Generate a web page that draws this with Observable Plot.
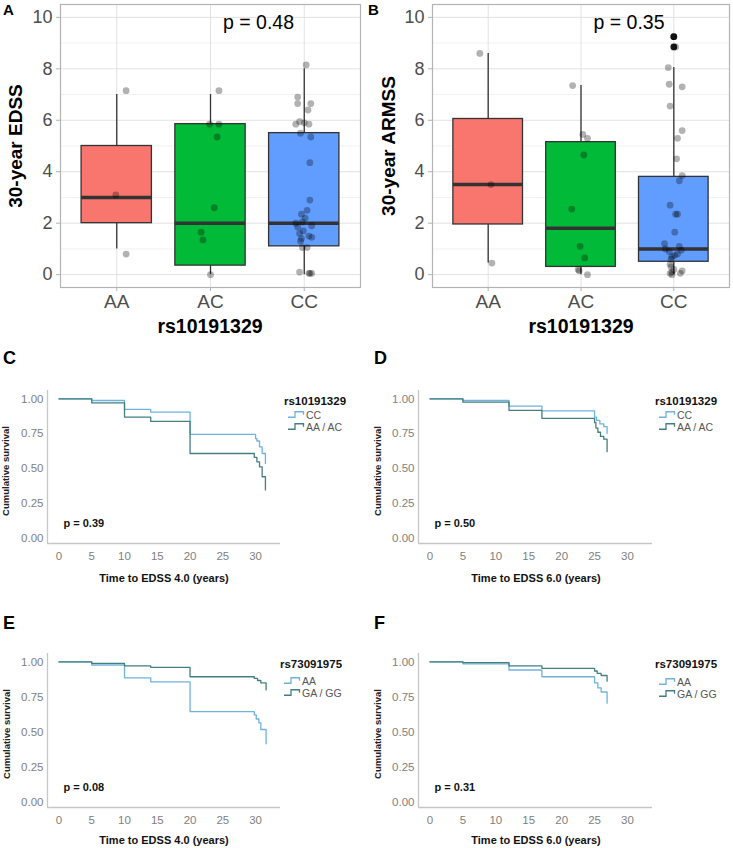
<!DOCTYPE html>
<html><head><meta charset="utf-8">
<script src="https://cdn.jsdelivr.net/npm/d3@7"></script>
<script src="https://cdn.jsdelivr.net/npm/@observablehq/plot@0.6"></script>
<style>
body{margin:0;background:#fff;}
#root{position:relative;width:733px;height:848px;font-family:"Liberation Sans",Arial,sans-serif;overflow:hidden;background:#fff}
.abs{position:absolute;white-space:nowrap;line-height:1}
.plot{position:absolute}
</style></head><body><div id="root"></div>
<script>
const FONT = '"Liberation Sans", Arial, sans-serif';
// ---------- Box plot data ----------
const genotypes = ["AA", "AC", "CC"];
const boxColors = ["#F8766D", "#00BA38", "#619CFF"];
const yTicksBox = [0, 2, 4, 6, 8, 10];
const yMinorBox = [1, 3, 5, 7, 9];

// Panel A: 30-year EDSS
const edssLower = [1, 0, 0];
const edssQ1 = [2, 0.35, 1.1];
const edssMedian = [3, 2, 2];
const edssQ3 = [5, 5.85, 5.5];
const edssUpper = [7, 7, 8];
const edssAA = [7.15, 3.1, 0.8];
const edssAAJitter = [0.1, -0.01, 0.1];
const edssAC = [7.15, 5.85, 5.85, 5.35, 2.6, 1.65, 1.35, 0.0];
const edssACJitter = [0.09, -0.01, 0.09, 0.07, 0.04, -0.1, -0.08, 0];
const edssCC = [8.15, 6.9, 6.65, 6.65, 6.4, 5.95, 5.9, 5.85, 5.85, 5.5, 5.35, 4.35, 2.9, 2.5, 2.35, 2.2, 2.05, 2.0, 1.9, 1.85, 1.7, 1.6, 1.5, 1.45, 1.4, 1.3, 1.05, 1.05, 0.1, 0.05, 0.05, 0.05];
const edssCCJitter = [0.02, -0.07, -0.07, 0.07, 0.04, -0.05, 0, -0.09, 0.05, -0.04, 0.07, 0.06, 0.06, 0.03, -0.03, 0.01, -0.02, -0.09, 0.08, -0.07, -0.01, -0.05, 0.05, 0.08, -0.03, -0.04, -0.02, 0.03, -0.05, 0.06, 0.08, 0.05];
const edssOutliers = [[], [], []];
const edssP = "p = 0.48";

// Panel B: 30-year ARMSS
const armssLower = [0.45, 0, 0];
const armssQ1 = [1.95, 0.3, 0.5];
const armssMedian = [3.5, 1.8, 1.0];
const armssQ3 = [6.05, 5.15, 3.8];
const armssUpper = [8.6, 7.35, 8.05];
const armssAA = [8.6, 3.5, 0.45];
const armssAAJitter = [-0.09, 0.03, 0.04];
const armssAC = [7.35, 5.45, 5.3, 4.65, 2.55, 1.1, 0.65, 0.2, 0.15, 0.0];
const armssACJitter = [-0.09, 0.02, 0.07, 0.03, -0.1, -0.01, 0.04, -0.03, -0.02, 0.07];
const armssCC = [9.25, 8.85, 8.05, 7.4, 7.3, 6.55, 5.6, 5.3, 4.5, 3.85, 3.65, 2.7, 2.35, 2.35, 1.65, 1.2, 1.1, 1.0, 0.95, 0.9, 0.8, 0.75, 0.7, 0.6, 0.4, 0.3, 0.2, 0.15, 0.1, 0.05, 0.05, 0.0];
const armssCCJitter = [0, 0.02, -0.06, -0.05, 0.09, -0.04, 0.09, 0.04, 0.03, 0.09, 0.06, -0.04, 0.02, 0.04, 0.01, -0.1, 0.06, -0.09, 0.08, -0.05, 0.04, 0.01, -0.02, -0.03, -0.04, -0.03, 0, 0.09, -0.02, -0.04, 0.07, -0.02];
const armssOutliers = [[], [], [9.25, 8.85]];
const armssP = "p = 0.35";

// ---------- Kaplan-Meier data ----------
const kmXTicks = [0, 5, 10, 15, 20, 25, 30];
const kmYTicks = [0, 0.25, 0.5, 0.75, 1];
const kmLight = "#6fb2de";
const kmDark = "#447f80";

// C: rs10191329, time to EDSS 4.0
const cCC_t = [0, 5, 10, 14, 20, 30.0, 30.2, 30.6, 31.0, 31.5];
const cCC_s = [1, 0.988, 0.924, 0.905, 0.745, 0.714, 0.697, 0.654, 0.607, 0.536];
const cAAAC_t = [0, 5, 10, 14, 20, 29.8, 30.2, 30.6, 31.0, 31.5];
const cAAAC_s = [1, 0.971, 0.869, 0.838, 0.607, 0.579, 0.547, 0.511, 0.44, 0.345];
// D: rs10191329, time to EDSS 6.0
const dCC_t = [0, 5, 12, 17, 25, 25.3, 25.8, 26.4, 26.9];
const dCC_s = [1, 0.988, 0.948, 0.914, 0.869, 0.845, 0.82, 0.80, 0.75];
const dAAAC_t = [0, 5, 12, 17, 25, 25.2, 25.5, 25.9, 26.4, 26.9];
const dAAAC_s = [1, 0.976, 0.917, 0.86, 0.83, 0.79, 0.76, 0.73, 0.71, 0.62];
// E: rs73091975, time to EDSS 4.0
const eAA_t = [0, 5, 10, 14, 20, 29.8, 30.1, 30.5, 30.8, 31.6];
const eAA_s = [1, 0.978, 0.886, 0.857, 0.645, 0.621, 0.592, 0.565, 0.517, 0.415];
const eGAGG_t = [0, 5, 10, 14, 20, 29.8, 30.3, 30.8, 31.6];
const eGAGG_s = [1, 0.99, 0.971, 0.961, 0.894, 0.882, 0.867, 0.85, 0.80];
// F: rs73091975, time to EDSS 6.0
const fAA_t = [0, 5, 12, 17, 25, 25.5, 26.0, 26.9];
const fAA_s = [1, 0.986, 0.942, 0.894, 0.85, 0.814, 0.785, 0.705];
const fGAGG_t = [0, 5, 12, 17, 25, 25.4, 26.0, 26.9];
const fGAGG_s = [1, 0.995, 0.971, 0.954, 0.935, 0.918, 0.903, 0.862];

const root = document.getElementById("root");

function place(node, left, top) {
  node.classList.add("plot");
  node.style.left = left + "px";
  node.style.top = top + "px";
  root.appendChild(node);
}
function label(text, x, y, o = {}) {
  const d = document.createElement("div");
  d.className = "abs";
  d.textContent = text;
  d.style.left = x + "px";
  d.style.top = y + "px";
  d.style.fontSize = (o.size || 12) + "px";
  d.style.fontWeight = o.weight || "normal";
  d.style.color = o.color || "#000";
  const tx = o.anchor === "start" ? "0" : "-50%";
  d.style.transform = `translate(${tx},-50%)` + (o.rotate ? ` rotate(${o.rotate}deg)` : "");
  root.appendChild(d);
  return d;
}

function boxplot(o) {
  const rows = genotypes.map((g, i) => ({i: i + 1, lo: o.lo[i], q1: o.q1[i], med: o.med[i], q3: o.q3[i], hi: o.hi[i], fill: boxColors[i]}));
  const pts = [];
  o.pts.forEach((vals, gi) => vals.forEach((v, k) => pts.push({i: gi + 1, y: v, j: o.jit[gi][k]})));
  const outs = o.out.flatMap((vals, gi) => vals.map(v => ({i: gi + 1, y: v})));
  const hw = 0.375;
  return Plot.plot({
    width: o.width, height: 340,
    marginLeft: o.mL, marginRight: o.mR, marginTop: 4, marginBottom: 53,
    x: {domain: [0.4, 3.6]},
    y: {domain: [-0.5, 10.5]},
    color: {type: "identity"},
    style: {fontFamily: FONT, fontSize: "18px", background: "transparent", color: "#4d4d4d"},
    marks: [
      Plot.gridY(yMinorBox, {stroke: "#f1f1f1", strokeOpacity: 1}),
      Plot.gridY(yTicksBox, {stroke: "#e2e2e2", strokeOpacity: 1}),
      Plot.gridX([1, 2, 3], {stroke: "#e2e2e2", strokeOpacity: 1}),
      Plot.ruleX(rows, {x: "i", y1: "lo", y2: "q1", stroke: "#333", strokeWidth: 1.3}),
      Plot.ruleX(rows, {x: "i", y1: "q3", y2: "hi", stroke: "#333", strokeWidth: 1.3}),
      Plot.rect(rows, {x1: d => d.i - hw, x2: d => d.i + hw, y1: "q1", y2: "q3", fill: "fill", stroke: "#333", strokeWidth: 1.3}),
      Plot.ruleY(rows, {y: "med", x1: d => d.i - hw, x2: d => d.i + hw, stroke: "#333", strokeWidth: 3.5}),
      Plot.dot(outs, {x: "i", y: "y", r: 3.4, fill: "#1a1a1a", stroke: null}),
      Plot.dot(pts, {x: d => d.i + d.j, y: "y", r: 3.4, fill: "#000", fillOpacity: 0.3, stroke: null}),
      Plot.text([o.p], {text: d => d, frameAnchor: "top", dx: 48, dy: 18, lineAnchor: "middle", fontSize: 19.5, fill: "#000"}),
      Plot.frame({stroke: "#b3b3b3", strokeWidth: 1.2}),
      Plot.axisY(yTicksBox, {tickSize: 4, tickPadding: 4, stroke: "#b3b3b3", fill: "#4d4d4d", label: null, fontSize: 18}),
      Plot.axisX([1, 2, 3], {tickSize: 4, tickPadding: 3, stroke: "#b3b3b3", fill: "#4d4d4d", label: null, fontSize: 19, tickFormat: i => genotypes[i - 1]})
    ]
  });
}

function km(o) {
  const xd = [-1.75, 33.8], yd = [-0.04, 1.06];
  const light = o.lt.map((t, k) => ({t, s: o.ls[k]}));
  const dark = o.dt.map((t, k) => ({t, s: o.ds[k]}));
  return Plot.plot({
    width: o.width, height: 200,
    marginLeft: o.mL, marginRight: o.mR, marginTop: 10, marginBottom: o.mB,
    x: {domain: xd}, y: {domain: yd},
    style: {fontFamily: FONT, fontSize: "11px", background: "transparent", color: "#808080"},
    marks: [
      Plot.ruleX([xd[0]], {stroke: "#c6c6c6", strokeWidth: 1.3}),
      Plot.ruleY([yd[0]], {stroke: "#c6c6c6", strokeWidth: 1.3}),
      Plot.line(light, {x: "t", y: "s", curve: "step-after", stroke: kmLight, strokeWidth: 1.3}),
      Plot.line(dark, {x: "t", y: "s", curve: "step-after", stroke: kmDark, strokeWidth: 1.3}),
      Plot.axisX(kmXTicks, {tickSize: 0, tickPadding: 8, fill: "#808080", label: null, fontSize: 11.5}),
      Plot.axisY(kmYTicks, {tickSize: 0, tickPadding: 4, fill: "#808080", label: null, fontSize: 11.5, tickFormat: d => d.toFixed(2)}),
      Plot.text([o.p], {text: d => d, frameAnchor: "bottom-left", dx: 16, dy: -20, textAnchor: "start", lineAnchor: "middle", fontWeight: "bold", fontSize: 11, fill: "#111"})
    ]
  });
}

function legend(x, y, title, items, gaps) {
  label(title, x, y, {size: 11.5, weight: "bold", anchor: "start", color: "#111"});
  items.forEach((it, k) => {
    const d = document.createElement("div");
    d.className = "abs";
    d.style.left = (x + 4) + "px";
    d.style.top = (y + gaps[k]) + "px";
    d.style.transform = "translate(0,-50%)";
    d.style.display = "flex";
    d.style.alignItems = "center";
    d.style.fontSize = "10.5px";
    d.style.color = "#555";
    d.innerHTML = `<svg width="17" height="8" style="margin-right:1px"><polyline points="0,6.5 7,6.5 7,1 15.5,1 15.5,4" fill="none" stroke="${it.color}" stroke-width="1.3"/></svg><span>${it.name}</span>`;
    root.appendChild(d);
  });
}

// ---------- Panels A & B ----------
place(boxplot({width: 366, mL: 60, mR: 6, lo: edssLower, q1: edssQ1, med: edssMedian, q3: edssQ3, hi: edssUpper,
  pts: [edssAA, edssAC, edssCC], jit: [edssAAJitter, edssACJitter, edssCCJitter], out: edssOutliers, p: edssP}), 0, 0);
place(boxplot({width: 367, mL: 66, mR: 4, lo: armssLower, q1: armssQ1, med: armssMedian, q3: armssQ3, hi: armssUpper,
  pts: [armssAA, armssAC, armssCC], jit: [armssAAJitter, armssACJitter, armssCCJitter], out: armssOutliers, p: armssP}), 366, 0);

label("A", 3, 9, {size: 15, weight: "bold", anchor: "start"});
label("B", 368, 9, {size: 15, weight: "bold", anchor: "start"});
label("30-year EDSS", 15, 146, {size: 19, weight: "bold", rotate: -90});
label("30-year ARMSS", 388, 146, {size: 19, weight: "bold", rotate: -90});
label("rs10191329", 210, 327, {size: 19.5, weight: "bold"});
label("rs10191329", 581, 327, {size: 19.5, weight: "bold"});

// ---------- Panels C–F ----------
place(km({width: 366, mL: 47, mR: 86, mB: 37, lt: cCC_t, ls: cCC_s, dt: cAAAC_t, ds: cAAAC_s, p: "p = 0.39"}), 0, 380);
place(km({width: 367, mL: 52, mR: 81, mB: 37, lt: dCC_t, ls: dCC_s, dt: dAAAC_t, ds: dAAAC_s, p: "p = 0.50"}), 366, 380);
place(km({width: 366, mL: 47, mR: 86, mB: 36, lt: eAA_t, ls: eAA_s, dt: eGAGG_t, ds: eGAGG_s, p: "p = 0.08"}), 0, 643);
place(km({width: 367, mL: 52, mR: 81, mB: 36, lt: fAA_t, ls: fAA_s, dt: fGAGG_t, ds: fGAGG_s, p: "p = 0.31"}), 366, 643);

label("C", 3, 358, {size: 18, weight: "bold", anchor: "start"});
label("D", 374, 358, {size: 18, weight: "bold", anchor: "start"});
label("E", 3, 623, {size: 18, weight: "bold", anchor: "start"});
label("F", 374, 623, {size: 18, weight: "bold", anchor: "start"});

label("Cumulative survival", 6, 471, {size: 9.5, weight: "bold", rotate: -90, color: "#222"});
label("Cumulative survival", 378, 471, {size: 9.5, weight: "bold", rotate: -90, color: "#222"});
label("Cumulative survival", 7, 734, {size: 9.5, weight: "bold", rotate: -90, color: "#222"});
label("Cumulative survival", 378, 734, {size: 9.5, weight: "bold", rotate: -90, color: "#222"});

label("Time to EDSS 4.0 (years)", 164, 578, {size: 11, weight: "bold", color: "#111"});
label("Time to EDSS 6.0 (years)", 536, 578, {size: 11, weight: "bold", color: "#111"});
label("Time to EDSS 4.0 (years)", 164, 840, {size: 11, weight: "bold", color: "#111"});
label("Time to EDSS 6.0 (years)", 536, 840, {size: 11, weight: "bold", color: "#111"});

legend(284, 402, "rs10191329", [{name: "CC", color: kmLight}, {name: "AA / AC", color: kmDark}], [13, 25]);
legend(655, 402, "rs10191329", [{name: "CC", color: kmLight}, {name: "AA / AC", color: kmDark}], [13, 25]);
legend(280, 665, "rs73091975", [{name: "AA", color: kmLight}, {name: "GA / GG", color: kmDark}], [16, 28]);
legend(655, 665, "rs73091975", [{name: "AA", color: kmLight}, {name: "GA / GG", color: kmDark}], [17, 29]);
</script></body></html>
